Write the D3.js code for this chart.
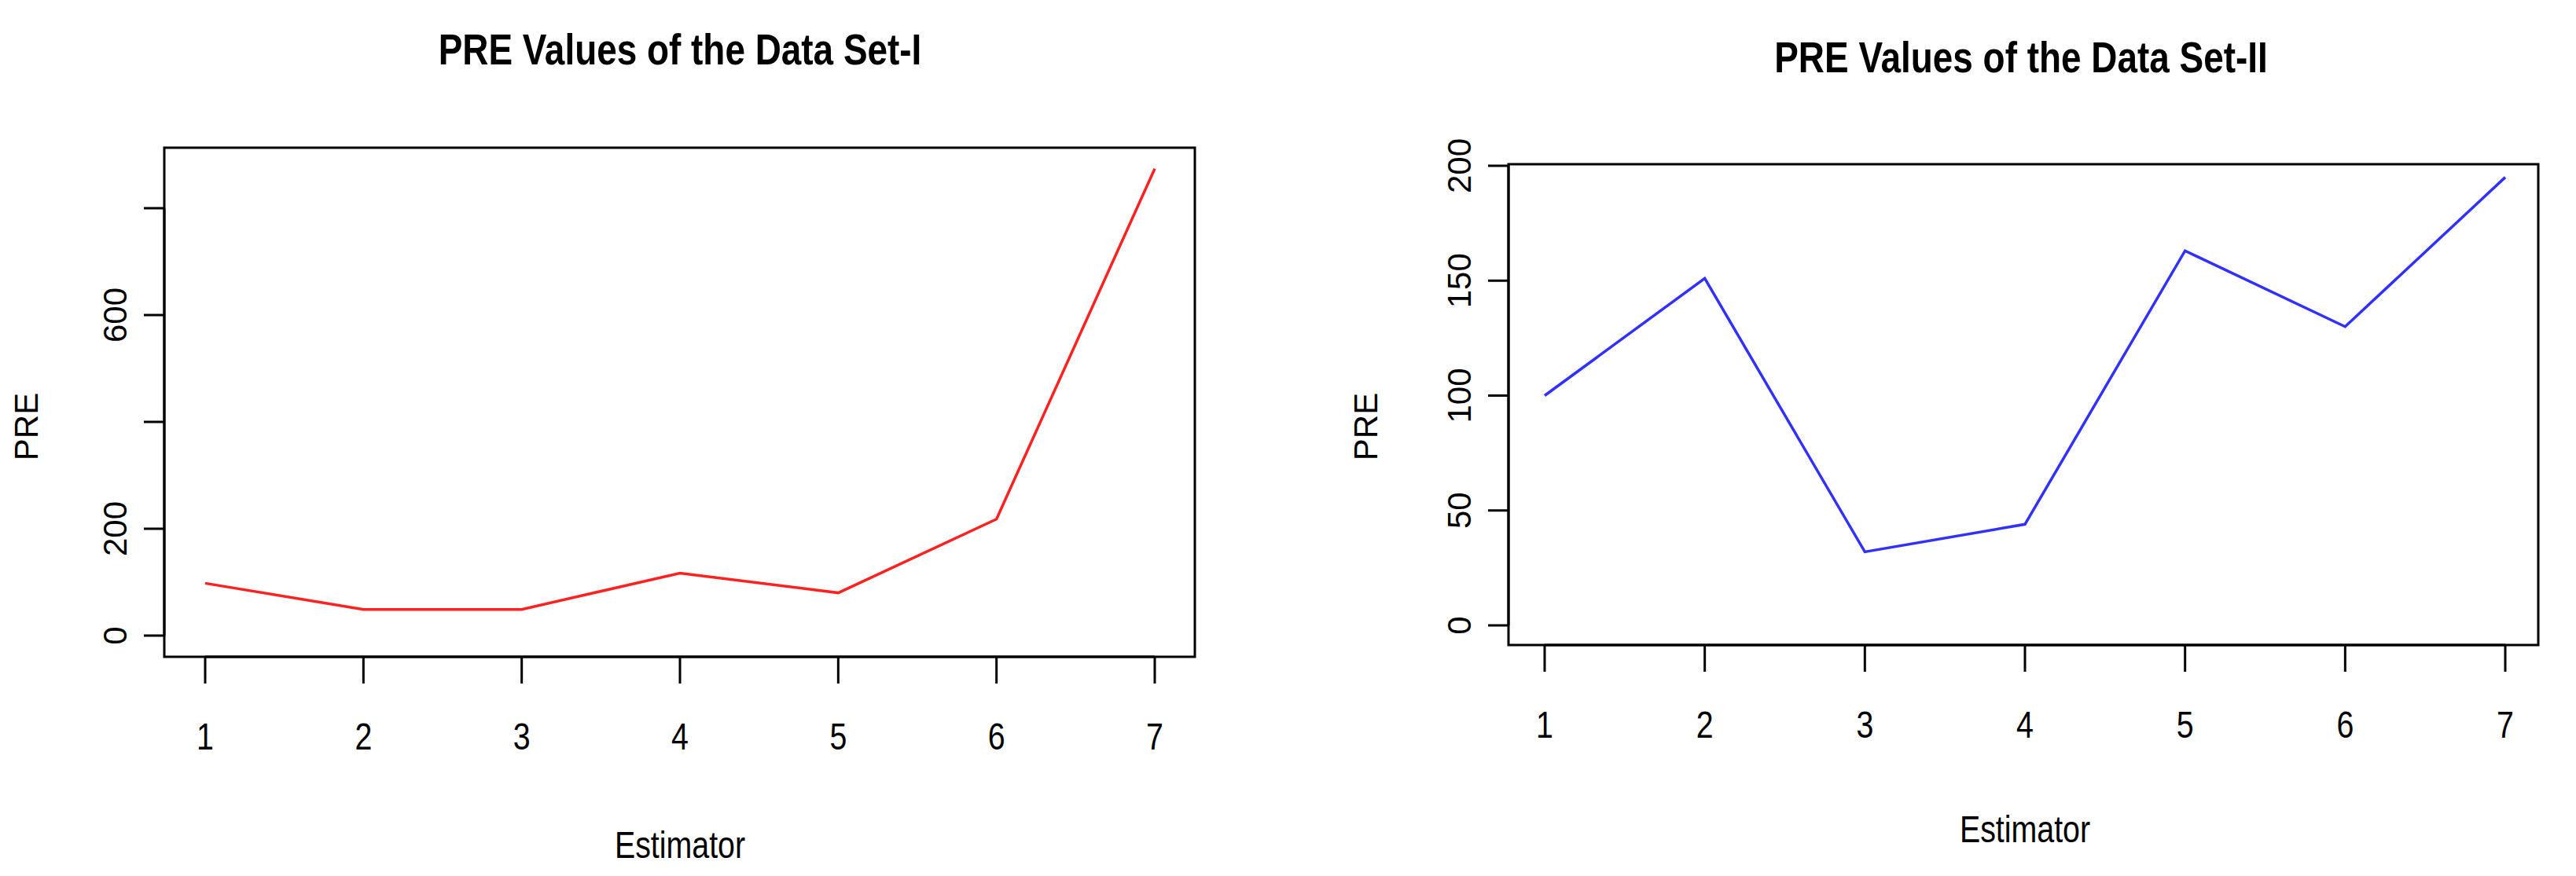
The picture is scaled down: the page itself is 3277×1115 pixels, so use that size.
<!DOCTYPE html>
<html><head><meta charset="utf-8">
<script src="https://cdn.jsdelivr.net/npm/d3@7"></script>
<style>body{margin:0;background:#fff}text{font-family:"Liberation Sans Narrow","Liberation Sans",Arial,sans-serif}</style>
</head><body>
<script>
var estimators = [1, 2, 3, 4, 5, 6, 7];
var preSet1 = [98, 49, 49, 117, 80, 218, 874];
var preSet2 = [100, 151, 32, 44, 163, 130, 195];
var yTicks1 = [0, 200, 400, 600, 800];
var yLabels1 = {0: "0", 200: "200", 600: "600"};
var yTicks2 = [0, 50, 100, 150, 200];

var svg = d3.select("body").append("svg").attr("width", 3277).attr("height", 1115);

// condensed look: squeeze text horizontally around its anchor
function narrow(sel, x, y, size) {
  return sel.attr("transform", "translate(" + x + "," + y + ") scale(0.82,1)").attr("font-size", size);
}

function panel(cfg) {
  var g = svg.append("g");
  var x = d3.scaleLinear().domain([1, 7]).range([cfg.x1, cfg.x7]);
  var y = d3.scaleLinear().domain([0, cfg.yTop]).range([cfg.y0, cfg.yTopPx]);
  g.append("rect").attr("x", cfg.box[0]).attr("y", cfg.box[1])
    .attr("width", cfg.box[2] - cfg.box[0]).attr("height", cfg.box[3] - cfg.box[1])
    .attr("fill", "none").attr("stroke", "#000").attr("stroke-width", 3);
  g.append("line").attr("x1", x(1)).attr("x2", x(7)).attr("y1", cfg.box[3]).attr("y2", cfg.box[3]).attr("stroke", "#000").attr("stroke-width", 3);
  estimators.forEach(function(e) {
    g.append("line").attr("x1", x(e)).attr("x2", x(e)).attr("y1", cfg.box[3]).attr("y2", cfg.box[3] + 34).attr("stroke", "#000").attr("stroke-width", 3);
    narrow(g.append("text"), x(e), cfg.box[3] + 118, 48).attr("text-anchor", "middle").text(e);
  });
  var yt = cfg.ticks;
  g.append("line").attr("x1", cfg.box[0]).attr("x2", cfg.box[0]).attr("y1", y(yt[0])).attr("y2", y(yt[yt.length - 1])).attr("stroke", "#000").attr("stroke-width", 3);
  yt.forEach(function(t) {
    g.append("line").attr("x1", cfg.box[0] - 26).attr("x2", cfg.box[0]).attr("y1", y(t)).attr("y2", y(t)).attr("stroke", "#000").attr("stroke-width", 3);
    var lab = cfg.labels ? cfg.labels[t] : String(t);
    if (lab) g.append("text").attr("transform", "translate(" + (cfg.box[0] - 48) + "," + y(t) + ") rotate(-90)")
      .attr("text-anchor", "middle").attr("font-size", 42).attr("font-family", "DejaVu Sans").text(lab);
  });
  var line = d3.line().x(function(d, i) { return x(estimators[i]); }).y(function(d) { return y(d); });
  g.append("path").datum(cfg.data).attr("d", line).attr("fill", "none").attr("stroke", cfg.color).attr("stroke-width", 3.5);
  narrow(g.append("text"), cfg.titleX, cfg.titleY, 56).attr("text-anchor", "middle").attr("font-weight", "bold").text(cfg.title);
  narrow(g.append("text"), (cfg.x1 + cfg.x7) / 2, cfg.xlabY, 48).attr("text-anchor", "middle").text("Estimator");
  g.append("text").attr("transform", "translate(" + cfg.ylabX + ",543) rotate(-90)").attr("text-anchor", "middle").attr("font-size", 42).attr("font-family", "DejaVu Sans").text("PRE");
}

panel({box: [209, 188, 1520, 836], x1: 261, x7: 1469, y0: 809, yTop: 200, yTopPx: 673,
  ticks: yTicks1, labels: yLabels1, data: preSet1, color: "#ff2020",
  title: "PRE Values of the Data Set-I", titleX: 865, titleY: 82, xlabY: 1092, ylabX: 48});
panel({box: [1919, 209, 3229, 821], x1: 1965, x7: 3187, y0: 796, yTop: 200, yTopPx: 211,
  ticks: yTicks2, data: preSet2, color: "#3030ff",
  title: "PRE Values of the Data Set-II", titleX: 2571, titleY: 92, xlabY: 1072, ylabX: 1752});
</script>
</body></html>
